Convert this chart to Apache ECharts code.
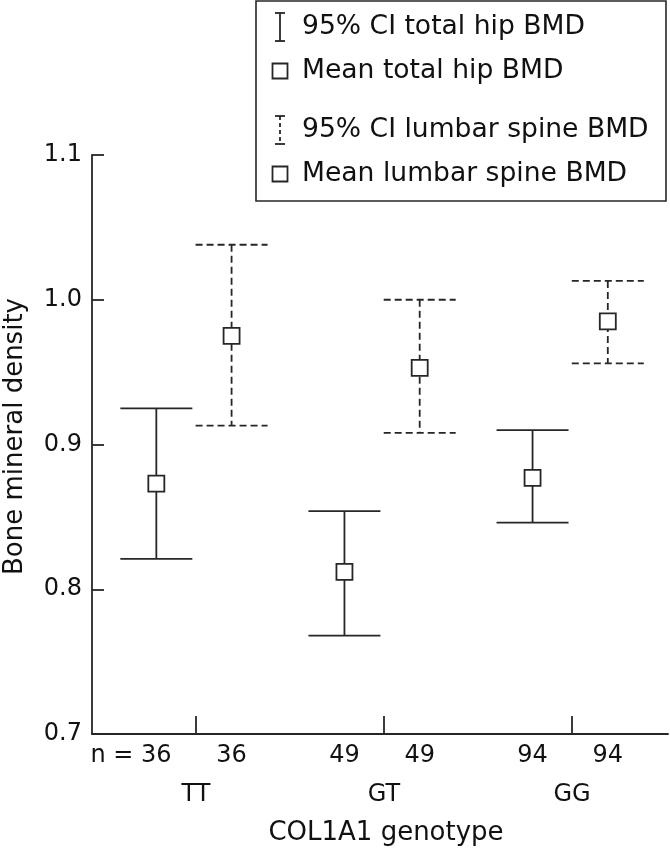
<!DOCTYPE html>
<html><head><meta charset="utf-8">
<script src="https://cdn.jsdelivr.net/npm/echarts@6/dist/echarts.min.js"></script>
<style>html,body{margin:0;padding:0;background:#fff}#c{width:670px;height:853px}</style>
</head><body><div id="c"></div>
<script>
// ---- data ----
const genotypes = ['TT', 'GT', 'GG'];
const nHip = [36, 49, 94];
const nSpine = [36, 49, 94];
const hipLower = [0.821, 0.768, 0.846];
const hipMean  = [0.873, 0.812, 0.877];
const hipUpper = [0.925, 0.854, 0.910];
const spineLower = [0.913, 0.908, 0.956];
const spineMean  = [0.975, 0.953, 0.985];
const spineUpper = [1.038, 1.000, 1.013];
const yMin = 0.7, yMax = 1.1, yStep = 0.1;
const legendLabels = ['95% CI total hip BMD', 'Mean total hip BMD', '95% CI lumbar spine BMD', 'Mean lumbar spine BMD'];

// ---- style / layout ----
const INK = '#262626';
const TXT = '#111111';
const FONT = '"DejaVu Sans", sans-serif';
const HIP_OFF = -0.21, SPINE_OFF = 0.19;
const CAP = 36, BOX = 8, LW = 1.8;

const hipData = genotypes.map((g, i) => [i + 1, hipLower[i], hipMean[i], hipUpper[i]]);
const spineData = genotypes.map((g, i) => [i + 1, spineLower[i], spineMean[i], spineUpper[i]]);

function makeRender(offset, dashed) {
  return function (params, api) {
    const g = api.value(0) + offset;
    const lo = api.coord([g, api.value(1)]);
    const mid = api.coord([g, api.value(2)]);
    const hi = api.coord([g, api.value(3)]);
    const x = mid[0];
    const ls = { stroke: INK, lineWidth: LW, lineDash: dashed ? [7, 4] : null, fill: null };
    return {
      type: 'group',
      children: [
        { type: 'line', shape: { x1: x, y1: hi[1], x2: x, y2: lo[1] }, style: ls },
        { type: 'line', shape: { x1: x - CAP, y1: hi[1], x2: x + CAP, y2: hi[1] }, style: ls },
        { type: 'line', shape: { x1: x - CAP, y1: lo[1], x2: x + CAP, y2: lo[1] }, style: ls },
        { type: 'rect', shape: { x: x - BOX, y: mid[1] - BOX, width: 2 * BOX, height: 2 * BOX },
          style: { fill: '#fff', stroke: INK, lineWidth: LW } }
      ]
    };
  };
}

// label positions for counts
const countPos = [], countVal = [];
genotypes.forEach((g, i) => {
  countPos.push(i + 1 + HIP_OFF); countVal.push(nHip[i]);
  countPos.push(i + 1 + SPINE_OFF); countVal.push(nSpine[i]);
});
const ctx = document.createElement('canvas').getContext('2d');
ctx.font = '24px "DejaVu Sans"';
const prefixW = ctx.measureText('n = ').width;

function countFormatter(v) {
  let k = 0, best = 1e9;
  countPos.forEach((p, j) => { const d = Math.abs(p - v); if (d < best) { best = d; k = j; } });
  if (k === 0) return '{p|n = }{v|' + countVal[k] + '}{s|}';
  return String(countVal[k]);
}

const chart = echarts.init(document.getElementById('c'), null, { renderer: 'canvas' });

// legend graphic
const LX = 280;
const rows = [27, 71, 130, 174];
function ibar(cy, dashed) {
  const st = { stroke: INK, lineWidth: LW, lineDash: dashed ? [4, 3] : null };
  return [
    { type: 'line', shape: { x1: LX, y1: cy - 14, x2: LX, y2: cy + 14 }, style: st },
    { type: 'line', shape: { x1: LX - 5, y1: cy - 14, x2: LX + 5, y2: cy - 14 }, style: { stroke: INK, lineWidth: LW } },
    { type: 'line', shape: { x1: LX - 5, y1: cy + 14, x2: LX + 5, y2: cy + 14 }, style: { stroke: INK, lineWidth: LW } }
  ];
}
function sq(cy) {
  return [{ type: 'rect', shape: { x: LX - 7.5, y: cy - 7.5, width: 15, height: 15 }, style: { fill: '#fff', stroke: INK, lineWidth: LW } }];
}
const legendChildren = [
  { type: 'rect', shape: { x: 256, y: 1, width: 410, height: 200 }, style: { fill: '#fff', stroke: INK, lineWidth: 1.6 } },
  ...ibar(rows[0], false), ...sq(rows[1]), ...ibar(rows[2], true), ...sq(rows[3]),
  ...legendLabels.map((t, i) => ({ type: 'text', x: 302, y: rows[i],
    style: { text: t, font: '26.6px ' + FONT, fill: TXT, textVerticalAlign: 'middle', textAlign: 'left' } }))
];

chart.setOption({
  animation: false,
  backgroundColor: '#fff',
  grid: { left: 92, right: 2, top: 155, bottom: 119, containLabel: false, outerBoundsMode: 'none' },
  xAxis: [
    {
      type: 'value', min: 0.448, max: 3.51, position: 'bottom',
      axisLine: { show: true, onZero: false, lineStyle: { color: INK, width: LW } },
      axisTick: { show: true, inside: true, length: 18, customValues: [1, 2, 3], lineStyle: { color: INK, width: LW } },
      axisLabel: {
        show: true, customValues: countPos, formatter: countFormatter, margin: 10,
        color: TXT, fontFamily: FONT, fontSize: 24,
        rich: {
          p: { fontFamily: FONT, fontSize: 24, color: TXT },
          v: { fontFamily: FONT, fontSize: 24, color: TXT },
          s: { width: prefixW }
        }
      },
      splitLine: { show: false }
    },
    {
      type: 'value', min: 0.448, max: 3.51, position: 'bottom', gridIndex: 0,
      axisLine: { show: false }, axisTick: { show: false }, splitLine: { show: false },
      axisLabel: { show: true, customValues: [1, 2, 3], formatter: v => genotypes[Math.round(v) - 1],
        margin: 49, color: TXT, fontFamily: FONT, fontSize: 24 },
      name: 'COL1A1 genotype', nameLocation: 'middle', nameGap: 86,
      nameTextStyle: { color: TXT, fontFamily: FONT, fontSize: 26, padding: [0, 0, 0, 12] }
    }
  ],
  yAxis: {
    type: 'value', min: yMin, max: yMax, interval: yStep,
    axisLine: { show: true, lineStyle: { color: INK, width: LW } },
    axisTick: { show: true, inside: true, length: 12, lineStyle: { color: INK, width: LW } },
    axisLabel: { formatter: v => v.toFixed(1), margin: 10, color: TXT, fontFamily: FONT, fontSize: 24 },
    splitLine: { show: false },
    name: 'Bone mineral density', nameLocation: 'middle', nameGap: 64, nameRotate: 90,
    nameTextStyle: { color: TXT, fontFamily: FONT, fontSize: 26, padding: [0, 0, 0, 16] }
  },
  series: [
    { name: 'Total hip BMD', type: 'custom', xAxisIndex: 0, renderItem: makeRender(HIP_OFF, false), data: hipData, clip: false },
    { name: 'Lumbar spine BMD', type: 'custom', xAxisIndex: 0, renderItem: makeRender(SPINE_OFF, true), data: spineData, clip: false }
  ],
  graphic: [{ type: 'group', children: legendChildren, z: 100 }]
});
</script>
</body></html>
